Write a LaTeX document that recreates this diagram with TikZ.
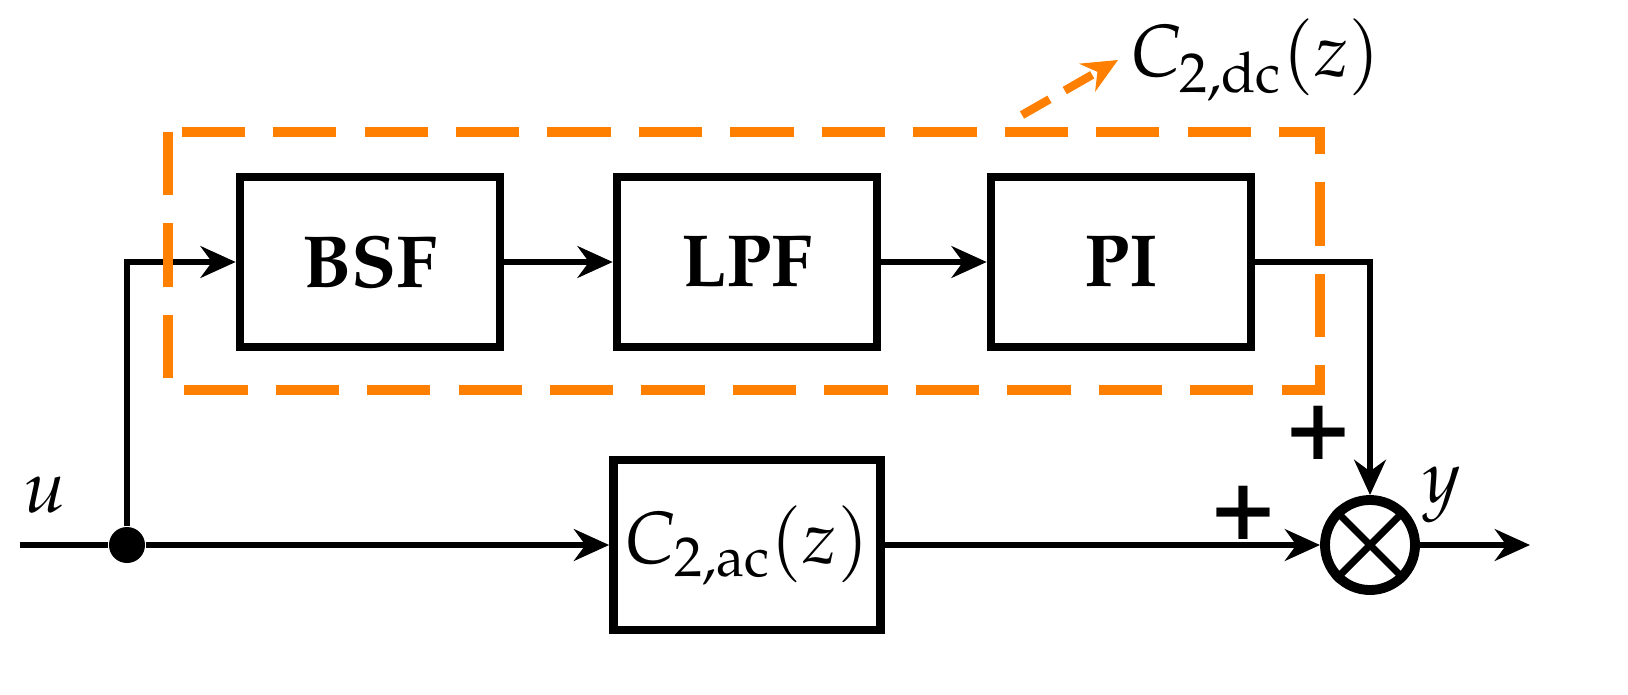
\documentclass[tikz,border=0pt]{standalone}
\usepackage[T1]{fontenc}
\usepackage{mathpazo}
\usetikzlibrary{arrows.meta}
\definecolor{dcorange}{RGB}{255,128,0}
\tikzset{
  block/.style = {draw, line width=2.4pt, minimum width=2.6cm, minimum height=1.7cm,
                  font=\fontsize{21}{24}\selectfont\bfseries},
  sig/.style = {line width=1.9pt, -{Stealth[length=10pt,width=9pt]}},
  wire/.style = {line width=1.9pt}
}
\begin{document}
\begin{tikzpicture}[x=0.01cm,y=-0.01cm]
	\def\fs{\fontsize{21}{24}\selectfont}
	
	% Blocks
	\node[block] (bsf) at (370,262) {BSF};
	\node[block] (lpf) at (747,262) {LPF};
	\node[block] (pi)  at (1121,262) {PI};
	\node[block, font=\fs] (cac) at (747,545) {$C_{2,\mathrm{ac}}(z)$};
	\node[draw, circle, line width=2.8pt, minimum size=0.9cm, inner sep=0pt] (sum) at (1370,545) {};
	\draw[line width=2pt] (sum.north west) -- (sum.south east) (sum.north east) -- (sum.south west);
	\node[circle, fill, minimum size=0.36cm, inner sep=0pt] (split) at (127,545) {};
	\coordinate (in) at (20,545);
	\coordinate (out) at (1530,545);
	
	% Signals
	\draw[wire] (in) -- (split);
	\draw[sig] (split) -- (cac);
	\draw[sig] (split) |- (bsf);
	\draw[sig] (bsf) -- (lpf);
	\draw[sig] (lpf) -- (pi);
	\draw[sig] (pi.east) -| (sum.north);
	\draw[sig] (cac) -- (sum);
	\draw[sig] (sum) -- (out);
	
	% Labels
	\node[font=\fs] (lu) at (45,495) {$u$};
	\node[font=\fs] (ly) at (1442,495) {$y$};
	\node[font=\fontsize{30}{30}\selectfont\bfseries] (p1) at (1318,432) {+};
	\node[font=\fontsize{30}{30}\selectfont\bfseries] (p2) at (1243,512) {+};
	
	% C2,dc
	\draw[dcorange, line width=2.6pt, dash pattern=on 18pt off 8pt] (168,132) rectangle (1320,390);
	\coordinate (dcfrom) at (1022,115);
	\node[font=\fs, anchor=west] (ldc) at (1118,60) {$C_{2,\mathrm{dc}}(z)$};
	\draw[dcorange, line width=2.4pt, dash pattern=on 9pt off 5pt, -{Stealth[length=10pt,width=9pt]}] (dcfrom) -- (ldc.west);
	
	\pgfresetboundingbox
	\useasboundingbox (0,0) rectangle (1628,694);
\end{tikzpicture}
\end{document}
